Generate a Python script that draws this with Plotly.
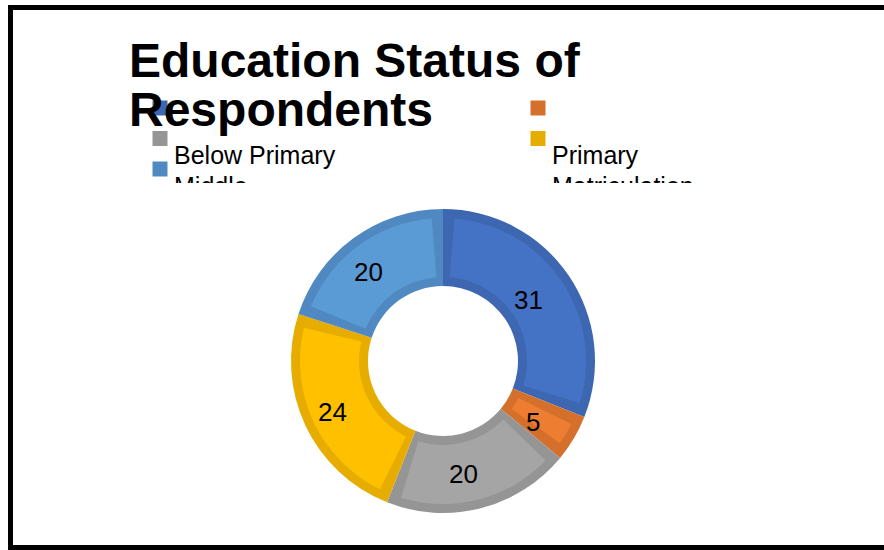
import math
import plotly.graph_objects as go

# Survey data: education level of respondents (counts)
categories = ["Below Primary", "Primary", "Middle", "Matriculation", "Graduate"]
values = [31, 5, 20, 24, 20]

# Office-style palette: slice fill and darker slice outline
fill_colors = ["#4472C4", "#ED7D31", "#A5A5A5", "#FFC000", "#5B9BD5"]
edge_colors = ["#3E67B1", "#D5702C", "#959595", "#E6AD00", "#5089C1"]

title_lines = ["Education Status of", "Respondents"]

W, H = 884, 550
FONT = "Liberation Sans, Arial, sans-serif"

# donut geometry (pixels)
cx, cy = 443, 361          # centre, measured from the top
r_out, r_in = 152, 75      # outer / inner radius
edge = 9                   # outline thickness


def domain_for(r):
    return dict(x=[(cx - r) / W, (cx + r) / W],
                y=[(H - cy - r) / H, (H - cy + r) / H])


fig = go.Figure()

# 1) full ring in the outline colours
fig.add_trace(go.Pie(
    values=values, labels=categories, sort=False, direction="clockwise",
    rotation=0, hole=r_in / r_out, domain=domain_for(r_out),
    marker=dict(colors=edge_colors, line=dict(width=0)),
    textinfo="none", hoverinfo="skip", showlegend=False,
))

# 2) lighter inset of every slice, leaving a band of outline colour around it
r2_out, r2_in = r_out - edge, r_in + edge
total = sum(values)
gap = edge / ((r2_out + r2_in) / 2) * total / (2 * math.pi)
inset_vals, inset_cols, inset_labels = [], [], []
for name, v, c in zip(categories, values, fill_colors):
    inset_vals += [gap, v - 2 * gap, gap]
    inset_cols += ["rgba(0,0,0,0)", c, "rgba(0,0,0,0)"]
    inset_labels += [name + " a", name, name + " b"]
fig.add_trace(go.Pie(
    values=inset_vals, labels=inset_labels, sort=False, direction="clockwise",
    rotation=0, hole=r2_in / r2_out, domain=domain_for(r2_out),
    marker=dict(colors=inset_cols, line=dict(width=0)),
    textinfo="none", hoverinfo="skip", showlegend=False,
))

# 3) value labels at the middle of each slice
annotations = []
r_lab = (r_out + r_in) / 2
lab_dx, lab_dy = -8, 3
start = 0.0
for v in values:
    mid = (start + v / 2) / total * 2 * math.pi
    start += v
    px = cx + r_lab * math.sin(mid) + lab_dx
    py = cy - r_lab * math.cos(mid) + lab_dy
    annotations.append(dict(
        text=str(v), xref="paper", yref="paper", x=px / W, y=(H - py) / H,
        xanchor="center", yanchor="middle", showarrow=False,
        font=dict(family=FONT, size=26, color="black"),
    ))

# legend block drawn in a clipped pixel-space subplot
clip_y = 183
col_x = [160, 538]
row0_y, row_pitch, text_drop, text_dx = 108, 30.5, 50, 14
mk_x, mk_y, tx_x, tx_y = [], [], [], []
for i in range(len(categories)):
    col, row = i % 2, i // 2
    mk_x.append(col_x[col])
    mk_y.append(row0_y + row * row_pitch)
    tx_x.append(col_x[col] + text_dx)
    tx_y.append(row0_y + row * row_pitch + text_drop)

fig.add_trace(go.Scatter(
    x=mk_x, y=mk_y, mode="markers", cliponaxis=True,
    marker=dict(symbol="square", size=15, color=edge_colors, line=dict(width=0)),
    hoverinfo="skip", showlegend=False,
))
fig.add_trace(go.Scatter(
    x=tx_x, y=tx_y, mode="text", text=categories, cliponaxis=True,
    textposition="middle right",
    textfont=dict(family=FONT, size=25, color="black"),
    hoverinfo="skip", showlegend=False,
))

# title, one annotation per line
title_y = [89, 138]
for line, base in zip(title_lines, title_y):
    annotations.append(dict(
        text="<b>%s</b>" % line, xref="paper", yref="paper",
        x=127 / W, y=(H - base) / H, xanchor="left", yanchor="bottom",
        showarrow=False, align="left",
        font=dict(family=FONT, size=48, color="black"),
    ))

fig.update_layout(
    width=W, height=H, autosize=False,
    margin=dict(l=0, r=0, t=0, b=0),
    paper_bgcolor="white", plot_bgcolor="rgba(0,0,0,0)",
    xaxis=dict(domain=[0, 1], range=[0, W], visible=False, fixedrange=True),
    yaxis=dict(domain=[1 - clip_y / H, 1], range=[clip_y, 0], visible=False,
               fixedrange=True),
    annotations=annotations,
    shapes=[dict(type="rect", xref="paper", yref="paper",
                 x0=10.5 / W, x1=1.05, y0=2.5 / H, y1=(H - 7.5) / H,
                 line=dict(color="black", width=5), fillcolor="rgba(0,0,0,0)")],
    showlegend=False,
)

fig.write_html("out.html")
